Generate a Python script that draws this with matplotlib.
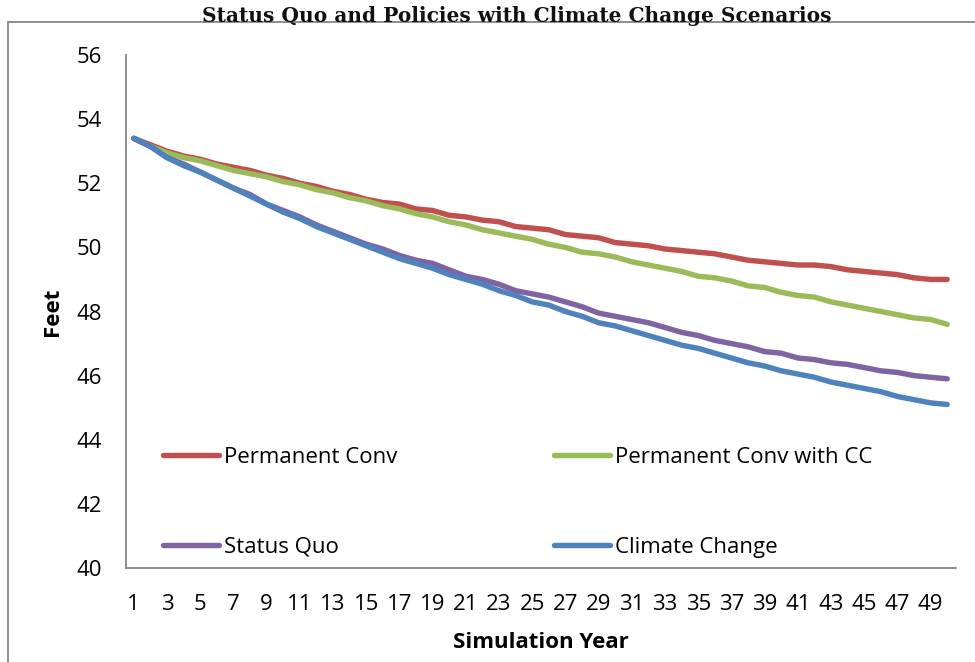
import matplotlib
matplotlib.use("Agg")
import matplotlib.pyplot as plt
from matplotlib.patches import Rectangle

years = list(range(1, 51))

permanent_conv = [
    53.4, 53.2, 53.0, 52.85, 52.75, 52.6, 52.5, 52.4, 52.25, 52.15,
    52.0, 51.9, 51.75, 51.65, 51.5, 51.4, 51.35, 51.2, 51.15, 51.0,
    50.95, 50.85, 50.8, 50.65, 50.6, 50.55, 50.4, 50.35, 50.3, 50.15,
    50.1, 50.05, 49.95, 49.9, 49.85, 49.8, 49.7, 49.6, 49.55, 49.5,
    49.45, 49.45, 49.4, 49.3, 49.25, 49.2, 49.15, 49.05, 49.0, 49.0,
]
permanent_conv_cc = [
    53.4, 53.15, 52.95, 52.8, 52.7, 52.55, 52.4, 52.3, 52.2, 52.05,
    51.95, 51.8, 51.7, 51.55, 51.45, 51.3, 51.2, 51.05, 50.95, 50.8,
    50.7, 50.55, 50.45, 50.35, 50.25, 50.1, 50.0, 49.85, 49.8, 49.7,
    49.55, 49.45, 49.35, 49.25, 49.1, 49.05, 48.95, 48.8, 48.75, 48.6,
    48.5, 48.45, 48.3, 48.2, 48.1, 48.0, 47.9, 47.8, 47.75, 47.6,
]
status_quo = [
    53.4, 53.15, 52.8, 52.6, 52.35, 52.1, 51.85, 51.65, 51.35, 51.15,
    50.95, 50.7, 50.5, 50.3, 50.1, 49.95, 49.75, 49.6, 49.5, 49.3,
    49.1, 49.0, 48.85, 48.65, 48.55, 48.45, 48.3, 48.15, 47.95, 47.85,
    47.75, 47.65, 47.5, 47.35, 47.25, 47.1, 47.0, 46.9, 46.75, 46.7,
    46.55, 46.5, 46.4, 46.35, 46.25, 46.15, 46.1, 46.0, 45.95, 45.9,
]
climate_change = [
    53.4, 53.15, 52.8, 52.55, 52.35, 52.1, 51.85, 51.6, 51.35, 51.1,
    50.9, 50.65, 50.45, 50.25, 50.05, 49.85, 49.65, 49.5, 49.35, 49.15,
    49.0, 48.85, 48.65, 48.5, 48.3, 48.2, 48.0, 47.85, 47.65, 47.55,
    47.4, 47.25, 47.1, 46.95, 46.85, 46.7, 46.55, 46.4, 46.3, 46.15,
    46.05, 45.95, 45.8, 45.7, 45.6, 45.5, 45.35, 45.25, 45.15, 45.1,
]

x_tick_labels = [str(v) for v in range(1, 50, 2)]
y_ticks = [40, 42, 44, 46, 48, 50, 52, 54, 56]

plt.rcParams["font.family"] = ["Open Sans", "DejaVu Sans"]

W, H = 975, 662
fig = plt.figure(figsize=(W / 100, H / 100), dpi=100)
fig.patch.set_facecolor("white")

# outer chart border
fig.patches.append(Rectangle((8 / W, -0.1), 1.2, 1.1 - 22 / H,
                             transform=fig.transFigure, fill=False,
                             edgecolor="#868686", linewidth=1.3))

fig.text(517 / W, 1 - 22 / H, "Status Quo and Policies with Climate Change Scenarios",
         family="DejaVu Serif", fontweight="bold", fontsize=14.5,
         ha="center", va="baseline", color="#111111")

left, right, top, bottom = 125.5, 955.5, 55, 568
ax = fig.add_axes([left / W, 1 - bottom / H, (right - left) / W, (bottom - top) / H])

lw = 3.9
series = [
    ("Permanent Conv", permanent_conv, "#C0504D"),
    ("Permanent Conv with CC", permanent_conv_cc, "#9BBB59"),
    ("Status Quo", status_quo, "#8064A2"),
    ("Climate Change", climate_change, "#4F81BD"),
]
handles = {}
for name, vals, col in series:
    h, = ax.plot(years, vals, color=col, linewidth=lw,
                 solid_capstyle="round", solid_joinstyle="round", label=name)
    handles[name] = h

ax.set_xlim(0.5, 50.5)
ax.set_ylim(40, 56)
ax.set_yticks(y_ticks)
ax.set_yticklabels([str(v) for v in y_ticks])
ax.set_xticks(list(range(1, 50, 2)))
ax.set_xticklabels(x_tick_labels)
ax.tick_params(axis="both", length=0, labelsize=16, colors="black")
ax.tick_params(axis="x", pad=19)
ax.tick_params(axis="y", pad=17)

for s in ["top", "right"]:
    ax.spines[s].set_visible(False)
for s in ["left", "bottom"]:
    ax.spines[s].set_color("#868686")
    ax.spines[s].set_linewidth(1.3)

ax.set_ylabel("Feet", fontsize=16, fontweight="bold", va="center")
ax.yaxis.set_label_coords((52 - left) / (right - left), 0.5)
ax.set_xlabel("Simulation Year", fontsize=16, fontweight="bold", va="center")
ax.xaxis.set_label_coords(0.5, (bottom - 643) / (bottom - top))

order = ["Permanent Conv", "Status Quo", "Permanent Conv with CC", "Climate Change"]
leg = fig.legend([handles[n] for n in order], order, ncol=2,
                 loc="upper left", bbox_to_anchor=(163 / W, 1 - 447 / H),
                 frameon=False, fontsize=16, handlelength=2.5,
                 handletextpad=0.25, columnspacing=7.05, labelspacing=3.1,
                 borderpad=0, borderaxespad=0)

fig.savefig("out.png", dpi=100)
